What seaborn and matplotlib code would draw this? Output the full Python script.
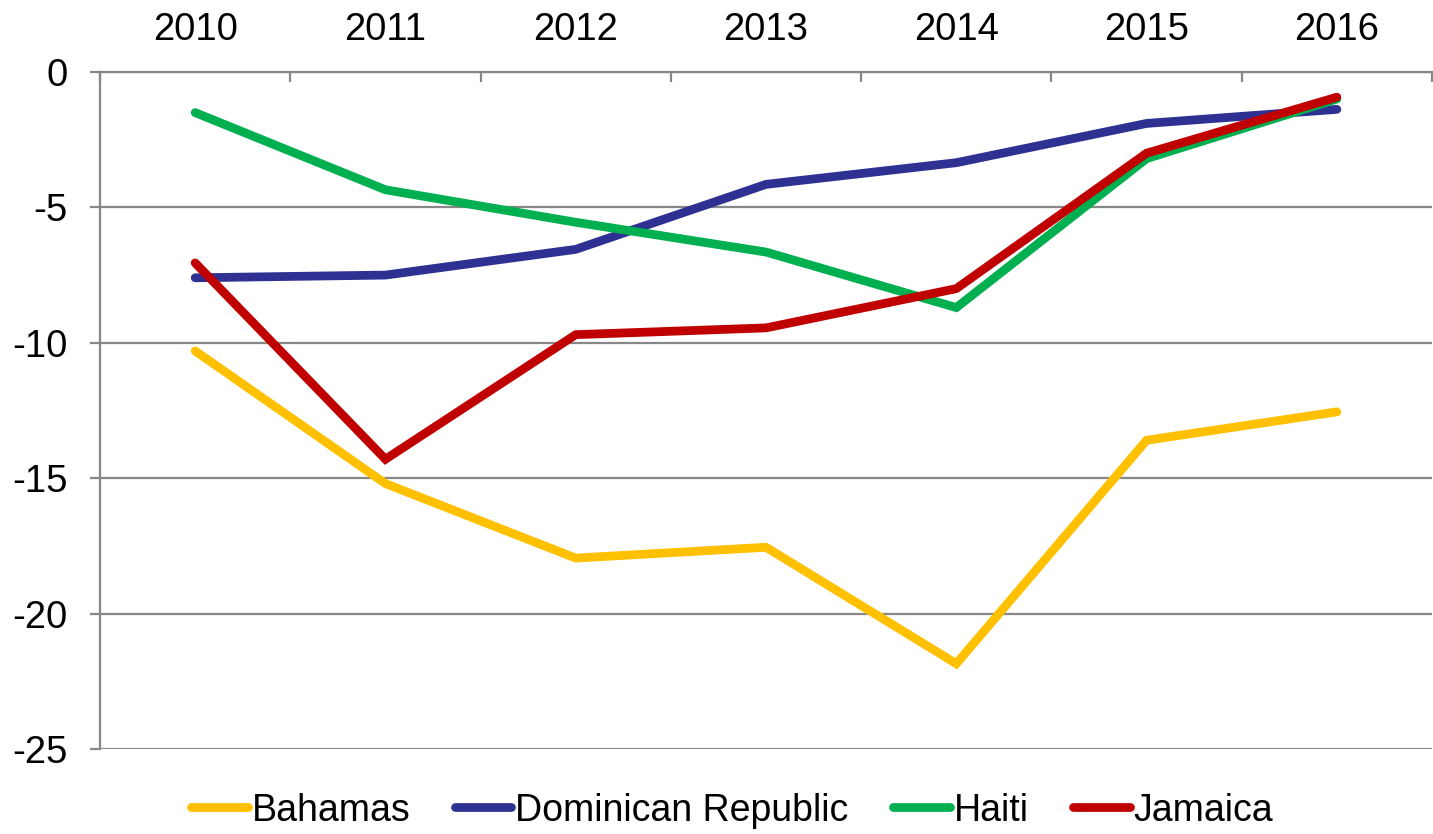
import matplotlib
matplotlib.use("Agg")
import matplotlib.pyplot as plt
import seaborn as sns
import pandas as pd
from matplotlib.ticker import MultipleLocator, FixedLocator

years = [2010, 2011, 2012, 2013, 2014, 2015, 2016]
bahamas = [-10.3, -15.2, -17.95, -17.55, -21.85, -13.6, -12.55]
dominican_republic = [-7.6, -7.5, -6.55, -4.15, -3.35, -1.9, -1.38]
haiti = [-1.5, -4.35, -5.55, -6.65, -8.7, -3.2, -1.0]
jamaica = [-7.05, -14.3, -9.7, -9.45, -8.0, -3.0, -0.93]

countries = ["Bahamas", "Dominican Republic", "Haiti", "Jamaica"]
colors = ["#FFC000", "#2E3192", "#00B050", "#C00000"]

series = [bahamas, dominican_republic, haiti, jamaica]
df = pd.DataFrame({
    "year": years * len(countries),
    "value": [v for s in series for v in s],
    "country": [c for c in countries for _ in years],
})

sns.set_theme(style="white")
plt.rcParams["font.family"] = ["Liberation Sans", "DejaVu Sans"]
plt.rcParams["axes.unicode_minus"] = False

fig = plt.figure(figsize=(14.33, 8.34), dpi=100)
ax = fig.add_axes([0.0698, 0.1019, 0.9295, 0.8118])

sns.lineplot(data=df, x="year", y="value", hue="country", hue_order=countries,
             palette=colors, linewidth=6.3, ax=ax, legend=True,
             solid_capstyle="round", solid_joinstyle="miter")

ax.set_xlim(2009.5, 2016.5)
ax.set_ylim(-25, 0)
ax.set_xlabel("")
ax.set_ylabel("")

grid_color = "#878787"
ax.yaxis.set_major_locator(MultipleLocator(5))
ax.yaxis.grid(True, color=grid_color, linewidth=1.6)
ax.xaxis.grid(False)
ax.set_axisbelow(True)

for side in ["right", "bottom"]:
    ax.spines[side].set_visible(False)
for side in ["left", "top"]:
    ax.spines[side].set_visible(True)
    ax.spines[side].set_color(grid_color)
    ax.spines[side].set_linewidth(1.6)

ax.xaxis.tick_top()
ax.set_xticks(years)
ax.set_xticklabels([str(y) for y in years])
ax.xaxis.set_minor_locator(FixedLocator([y + 0.5 for y in [2009] + years]))
ax.tick_params(axis="x", which="major", length=0, pad=17, labelsize=27.5, labelcolor="black",
               top=True, labeltop=True, bottom=False, labelbottom=False)
ax.tick_params(axis="x", which="minor", length=7.5, width=1.6, color=grid_color,
               direction="in", top=True, bottom=False)
ax.tick_params(axis="y", which="major", length=7.5, width=1.6, color=grid_color,
               direction="out", left=True, pad=16, labelsize=27.5, labelcolor="black")

handles, labels = ax.get_legend_handles_labels()
ax.get_legend().remove()
for h in handles:
    h.set_solid_capstyle("round")
    h.set_linewidth(6.3)
fig.legend(handles, labels, loc="lower center", bbox_to_anchor=(0.511, -0.034), ncol=4,
           frameon=False, fontsize=27, labelcolor="black", handlelength=1.5,
           handletextpad=0.1, columnspacing=1.2)

fig.savefig("out.png", dpi=100)
